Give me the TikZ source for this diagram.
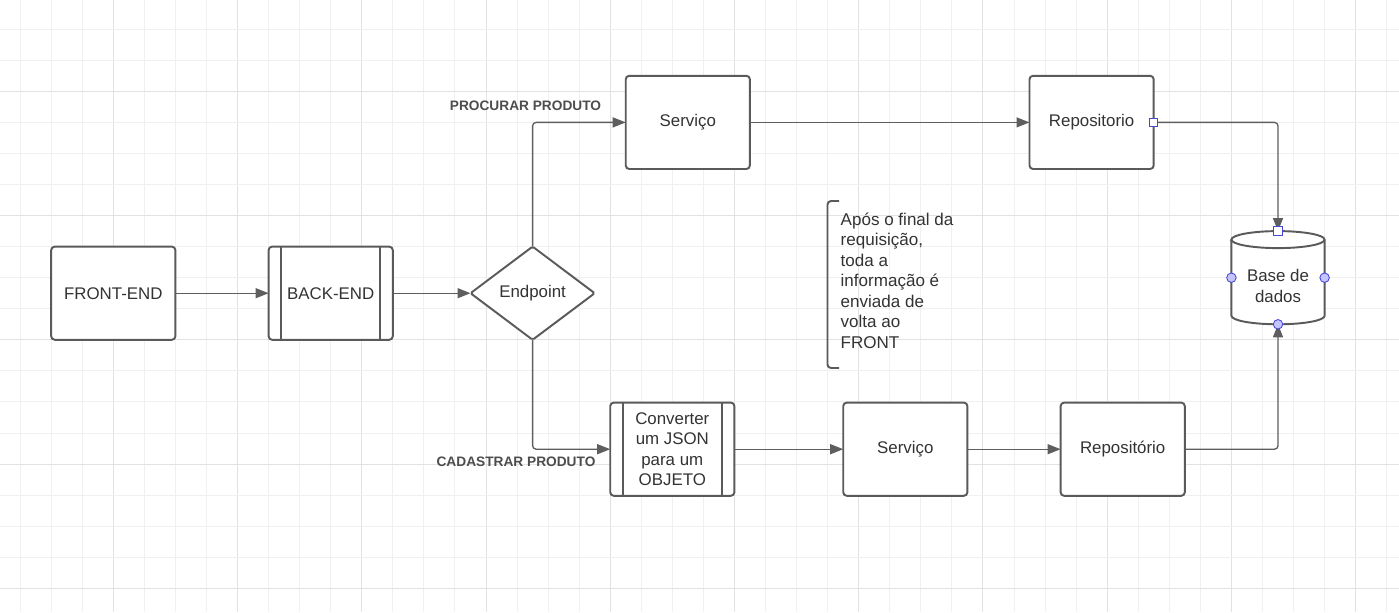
\documentclass[tikz,border=0pt]{standalone}
\usepackage{fontspec}
\setmainfont{Liberation Sans}
\usetikzlibrary{shapes.geometric,arrows.meta}

\definecolor{gridline}{HTML}{F0F0F0}
\definecolor{gridmajor}{HTML}{E2E2E2}
\definecolor{boxline}{HTML}{5A5A5A}
\definecolor{wire}{HTML}{5E5E5E}
\definecolor{ink}{HTML}{333333}
\definecolor{tagtext}{HTML}{4D4D4D}
\definecolor{pinfill}{HTML}{C4C4FF}
\definecolor{pinline}{HTML}{4848D8}

\begin{document}
\begin{tikzpicture}[x=0.02cm, y=-0.02cm, thick,
  box/.style={rectangle, draw=boxline, line width=1.1pt, rounded corners=2pt, fill=white,
    text=ink, minimum width=2.484cm, minimum height=1.864cm, outer sep=0pt, inner sep=1pt,
    font=\fontsize{9.6}{11.65}\selectfont, align=center},
  decision/.style={diamond, draw=boxline, line width=1.1pt, rounded corners=1pt, fill=white,
    text=ink, minimum width=2.484cm, minimum height=1.864cm, outer sep=0pt, inner sep=0pt,
    aspect=1.33, font=\fontsize{9.6}{11.65}\selectfont},
  store/.style={rectangle, minimum width=1.864cm, minimum height=1.864cm, outer sep=0pt,
    inner sep=0pt, text=ink, align=center, font=\fontsize{9.6}{12.2}\selectfont},
  note/.style={align=left, inner sep=0pt, text=ink, font=\fontsize{9.7}{11.65}\selectfont},
  tag/.style={inner sep=0pt, text=tagtext, font=\fontsize{7.8}{9}\selectfont\bfseries},
  wire/.style={draw=wire, line width=0.75pt, rounded corners=2pt,
    -{Triangle[length=0.26cm,width=0.2cm]}},
  pin/.style={circle, draw=pinline, fill=pinfill, line width=0.5pt, minimum size=0.19cm, inner sep=0pt},
  pinsq/.style={rectangle, draw=pinline, fill=white, line width=0.6pt, minimum size=0.17cm, inner sep=0pt}]

\useasboundingbox (0,0) rectangle (1399,612);
\fill[white] (0,0) rectangle (1399,612);

% background grid, a darker line every fourth cell
\foreach \i in {0,...,44}{
  \pgfmathtruncatemacro\m{mod(\i,4)}
  \ifnum\m=3 \def\gc{gridmajor}\else\def\gc{gridline}\fi
  \draw[\gc, line width=0.55pt] ({20.1+31.06*\i},0) -- ++(0,612);
}
\foreach \j in {0,...,18}{
  \pgfmathtruncatemacro\m{mod(\j,4)}
  \ifnum\m=2 \def\gc{gridmajor}\else\def\gc{gridline}\fi
  \draw[\gc, line width=0.55pt] (0,{29.2+31.06*\j}) -- ++(1399,0);
}

% blocks
\node[box] (fe) at (113.3,293.2) {FRONT-END};
\node[box] (be) at (330.7,293.2) {BACK-END};
\node[decision] (ep) at (532.6,293.2) {Endpoint};
\node[box] (st) at (687.8,122.4) {Serviço};
\node[box] (rt) at (1091.6,122.4) {Repositorio};
\node[box] (conv) at (672.3,449.2) {Converter\\um JSON\\para um\\OBJETO};
\node[box] (sb) at (905.3,449.2) {Serviço};
\node[box] (rb) at (1122.7,449.2) {Repositório};
\node[store] (db) at (1278,277.7) {};

% side bars of the sub-process boxes
\foreach \n in {be,conv}
  \draw[boxline, line width=1.1pt]
    ([xshift=0.254cm]\n.north west) -- ([xshift=0.254cm]\n.south west)
    ([xshift=-0.254cm]\n.north east) -- ([xshift=-0.254cm]\n.south east);

% database cylinder
\draw[boxline, line width=1.1pt, fill=white]
  ([yshift=-0.17cm]db.north west) -- ([yshift=0.17cm]db.south west)
  arc[start angle=180, end angle=360, x radius=0.932cm, y radius=0.17cm]
  -- ([yshift=-0.17cm]db.north east)
  arc[start angle=0, end angle=180, x radius=0.932cm, y radius=0.17cm] -- cycle;
\draw[boxline, line width=1.1pt] ([yshift=-0.17cm]db.north west)
  arc[start angle=180, end angle=360, x radius=0.932cm, y radius=0.17cm];
\node[store] (dbtext) at ([yshift=-0.16cm]db.center) {Base de\\dados};

% connectors
\path (fe) edge[wire] (be)
      (be) edge[wire] (ep)
      (st) edge[wire] (rt)
      (conv) edge[wire] (sb)
      (sb) edge[wire] (rb);
\draw[wire] (ep.north) |- (st.west);
\draw[wire] (ep.south) |- (conv.west);
\draw[wire] (rt.east) -| (db.north);
\draw[wire] (rb.east) -| (db.south);

% connection points
\node[pinsq] (prt) at (rt.east) {};
\node[pinsq] (pdbn) at (db.north) {};
\node[pin] (pdbw) at (db.west) {};
\node[pin] (pdbe) at (db.east) {};
\node[pin] (pdbs) at (db.south) {};

% labels
\node[tag] (tproc) at (525.5,105.5) {PROCURAR PRODUTO};
\node[tag] (tcad) at (516,461.5) {CADASTRAR PRODUTO};

% annotation
\draw[boxline, line width=1.1pt, rounded corners=2pt]
  (839,201) -- (827.5,201) -- (827.5,368) -- (839,368);
\node[note, anchor=north west] (nt) at (840,212)
  {Após o final da\\requisição,\\toda a\\informação é\\enviada de\\volta ao\\FRONT};
\end{tikzpicture}
\end{document}
